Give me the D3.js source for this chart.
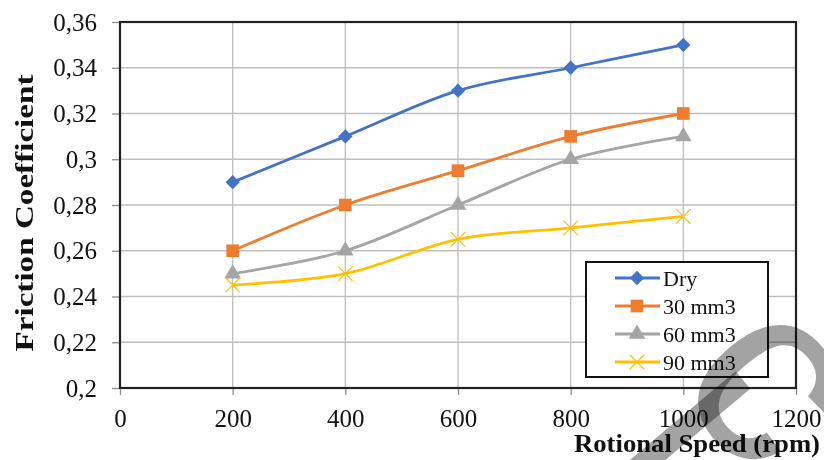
<!DOCTYPE html>
<html lang="en">
<head>
    <meta charset="UTF-8">
    <title>Friction Coefficient vs Rotional Speed</title>
    <style>
        body {
            margin: 0;
            padding: 0;
            background-color: #fff;
        }

        svg {
            display: block;
        }

        svg text,
        .axis {
            font-family: "Times New Roman", "Liberation Serif", Tinos, serif;
        }

        .grid line {
            stroke: #bfbfbf;
            stroke-width: 1.3;
        }

        .axis text {
            font-size: 25px;
            fill: #111;
        }

        .axis path,
        .axis line {
            stroke: #8c8c8c;
            stroke-width: 1.3;
        }

        .watermark {
            mix-blend-mode: multiply;
            font-family: "Liberation Sans", Arial, sans-serif;
        }
    </style>
</head>
<body>

<svg width="824" height="460" id="chart"></svg>

<script src="https://d3js.org/d3.v7.min.js"></script>
<script>
    // data
    const speeds = [200, 400, 600, 800, 1000];
    const dry = [0.29, 0.31, 0.33, 0.34, 0.35];
    const mm30 = [0.26, 0.28, 0.295, 0.31, 0.32];
    const mm60 = [0.25, 0.26, 0.28, 0.30, 0.31];
    const mm90 = [0.245, 0.25, 0.265, 0.27, 0.275];
    const seriesNames = ["Dry", "30 mm3", "60 mm3", "90 mm3"];
    const xTicks = [0, 200, 400, 600, 800, 1000, 1200];
    const yTicks = [0.2, 0.22, 0.24, 0.26, 0.28, 0.3, 0.32, 0.34, 0.36];

    const colors = ["#4472c4", "#ed7d31", "#a5a5a5", "#ffc000"];
    const symbols = [d3.symbolDiamond2, d3.symbolSquare, d3.symbolTriangle, d3.symbolX];
    const symbolSizes = [130, 160, 120, 140];

    const series = [dry, mm30, mm60, mm90].map((vals, i) => ({
        name: seriesNames[i],
        values: vals.map((v, j) => ({x: speeds[j], y: v}))
    }));

    const svg = d3.select("#chart");

    const margin = {top: 22, right: 28, bottom: 72, left: 120};
    const width = 824 - margin.left - margin.right;
    const height = 460 - margin.top - margin.bottom;

    const x = d3.scaleLinear().domain([0, 1200]).range([0, width]);
    const y = d3.scaleLinear().domain([0.2, 0.36]).range([height, 0]);

    const g = svg.append("g")
        .attr("transform", `translate(${margin.left},${margin.top})`);

    // gridlines
    g.append("g")
        .attr("class", "grid")
        .selectAll("line")
        .data(yTicks)
        .enter().append("line")
        .attr("x1", 0)
        .attr("x2", width)
        .attr("y1", d => y(d))
        .attr("y2", d => y(d));

    g.append("g")
        .attr("class", "grid")
        .selectAll("line")
        .data(xTicks)
        .enter().append("line")
        .attr("x1", d => x(d))
        .attr("x2", d => x(d))
        .attr("y1", 0)
        .attr("y2", height);

    // axes
    const fmt = d => String(+d.toFixed(2)).replace(".", ",");

    g.append("g")
        .attr("class", "axis")
        .call(d3.axisLeft(y).tickValues(yTicks).tickFormat(fmt).tickSize(8).tickPadding(15))
        .call(a => a.select(".domain").remove());

    g.append("g")
        .attr("class", "axis")
        .attr("transform", `translate(0,${height})`)
        .call(d3.axisBottom(x).tickValues(xTicks).tickFormat(d3.format("d")).tickSize(7).tickPadding(14))
        .call(a => a.select(".domain").remove());

    // plot frame
    g.append("rect")
        .attr("x", 0)
        .attr("y", 0)
        .attr("width", width)
        .attr("height", height)
        .attr("fill", "none")
        .attr("stroke", "#222")
        .attr("stroke-width", 2.2);

    // lines
    const line = d3.line()
        .x(d => x(d.x))
        .y(d => y(d.y))
        .curve(d3.curveCatmullRom.alpha(0));

    g.selectAll(".series")
        .data(series)
        .enter().append("path")
        .attr("class", "series")
        .attr("d", d => line(d.values))
        .attr("fill", "none")
        .attr("stroke", (d, i) => colors[i])
        .attr("stroke-width", 2.8);

    // markers
    series.forEach((s, i) => {
        g.selectAll(".m" + i)
            .data(s.values)
            .enter().append("path")
            .attr("class", "m" + i)
            .attr("transform", d => `translate(${x(d.x)},${y(d.y)})`)
            .attr("d", d3.symbol().type(symbols[i]).size(symbolSizes[i]))
            .attr("fill", colors[i])
            .attr("stroke", i === 3 ? colors[i] : "none")
            .attr("stroke-width", 1.2);
    });

    // axis titles
    svg.append("text")
        .attr("transform", "translate(33,213) rotate(-90)")
        .attr("text-anchor", "middle")
        .attr("font-weight", "bold")
        .attr("font-size", 26)
        .attr("textLength", 277)
        .attr("lengthAdjust", "spacingAndGlyphs")
        .attr("fill", "#111")
        .text("Friction Coefficient");

    svg.append("text")
        .attr("x", 820)
        .attr("y", 452)
        .attr("text-anchor", "end")
        .attr("font-weight", "bold")
        .attr("font-size", 26)
        .attr("textLength", 246)
        .attr("lengthAdjust", "spacingAndGlyphs")
        .attr("fill", "#111")
        .text("Rotional Speed (rpm)");

    // legend
    const legend = svg.append("g").attr("transform", "translate(586,262)");

    legend.append("rect")
        .attr("width", 182)
        .attr("height", 115)
        .attr("fill", "#fff")
        .attr("stroke", "#111")
        .attr("stroke-width", 2);

    const items = legend.selectAll(".item")
        .data(series)
        .enter().append("g")
        .attr("class", "item")
        .attr("transform", (d, i) => `translate(0,${16 + i * 28})`);

    items.append("line")
        .attr("x1", 29)
        .attr("x2", 74)
        .attr("stroke", (d, i) => colors[i])
        .attr("stroke-width", 2.8);

    items.append("path")
        .attr("transform", "translate(51,0)")
        .attr("d", (d, i) => d3.symbol().type(symbols[i]).size(symbolSizes[i])())
        .attr("fill", (d, i) => colors[i])
        .attr("stroke", (d, i) => i === 3 ? colors[i] : "none")
        .attr("stroke-width", 1.2);

    items.append("text")
        .attr("x", 77)
        .attr("dy", "0.35em")
        .attr("font-size", 22)
        .attr("fill", "#111")
        .text(d => d.name);

    // watermark pieces laid over the chart, multiplied so black text stays black
    svg.append("text")
        .attr("class", "watermark")
        .attr("transform", "translate(670,383) rotate(50)")
        .attr("font-size", 260)
        .attr("fill", "#a3a3a3")
        .text("c");

    svg.append("text")
        .attr("class", "watermark")
        .attr("transform", "translate(580,479) rotate(50)")
        .attr("font-size", 260)
        .attr("fill", "#a3a3a3")
        .text("l");
</script>
</body>
</html>
